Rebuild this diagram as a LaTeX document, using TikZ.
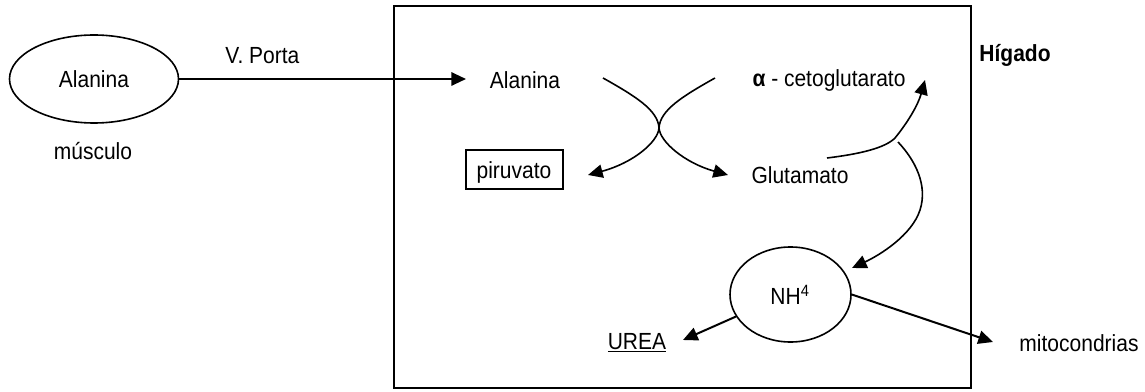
\documentclass[tikz,border=0pt]{standalone}
\usepackage{fontspec}
\setmainfont[FakeStretch=0.9]{Liberation Sans}
\usetikzlibrary{arrows.meta,shapes.geometric}

\begin{document}
\begin{tikzpicture}[x=0.75pt,y=-0.75pt,
  txt/.style={inner sep=0pt, font=\fontsize{17.5}{20}\selectfont},
  oval/.style={draw, ellipse, line width=1.2pt, inner sep=0pt},
  arr/.style={line width=1.5pt, -{Triangle[length=11pt,width=10pt]}},
  carr/.style={line width=1.2pt, -{Triangle[length=11pt,width=10pt]}}]

% canvas
\fill[white] (0,0) rectangle (1145,392);

% liver compartment
\draw[line width=1.2pt] (394,6) rectangle (971,388);
\node[txt, font=\fontsize{17.5}{20}\selectfont\bfseries] (hig) at (1015,55) {Hígado};

% muscle side
\node[oval, minimum width=126.75pt, minimum height=66pt] (alm) at (94,79) {};
\node[txt] (almt) at (94,79) {Alanina};
\node[txt] (mus) at (93,151) {músculo};

% metabolites in the liver
\node[txt] (ala) at (525,80) {Alanina};
\node[txt] (ceto) at (829,80) {\textbf{α} - cetoglutarato};
\node[txt] (glu) at (800,175) {Glutamato};
\node[txt] (pir) at (514,172) {piruvato};
\draw[line width=1.2pt] (466,150) rectangle (563,189);
\node[oval, minimum width=90.75pt, minimum height=71.25pt] (nh) at (790.5,294.5) {};
\node[txt] (nht) at (790,295) {NH\textsuperscript{4}};
\node[txt] (urea) at (637,343) {\underline{UREA}};
\node[txt] (mito) at (1079,343) {mitocondrias};

% free ends of the connectors
\coordinate (portaend) at (466,79);
\coordinate (tA) at (603,78);
\coordinate (tB) at (715,78);
\coordinate (kiss) at (659,128);
\coordinate (hA) at (728,175);
\coordinate (hB) at (588,175);
\coordinate (gC) at (827,158);
\coordinate (jC) at (895,138);
\coordinate (hC) at (925,80);
\coordinate (sD) at (898,142);
\coordinate (mD) at (920,210);
\coordinate (hD) at (852,268);
\coordinate (hU) at (683,340);
\coordinate (hM) at (993,342);

% portal vein transport
\draw[arr] (alm.east) -- node[txt, pos=0.29, above=11pt] (porta) {V. Porta} (portaend);

% transamination
\draw[carr] (tA) .. controls (635,96) and (658,110) .. (kiss)
                 .. controls (660,142) and (685,163) .. (hA);
\draw[carr] (tB) .. controls (683,96) and (660,110) .. (kiss)
                 .. controls (658,142) and (633,163) .. (hB);

% glutamate recycling and deamination
\draw[carr] (gC) .. controls (860,154) and (885,148) .. (jC)
                 .. controls (908,122) and (918,105) .. (hC);
\draw[carr] (sD) .. controls (915,160) and (928,185) .. (mD)
                 .. controls (912,235) and (880,255) .. (hD);

% fate of ammonium
\draw[arr] (nh.202) -- (hU);
\draw[arr] (nh.east) -- (hM);
\end{tikzpicture}
\end{document}
